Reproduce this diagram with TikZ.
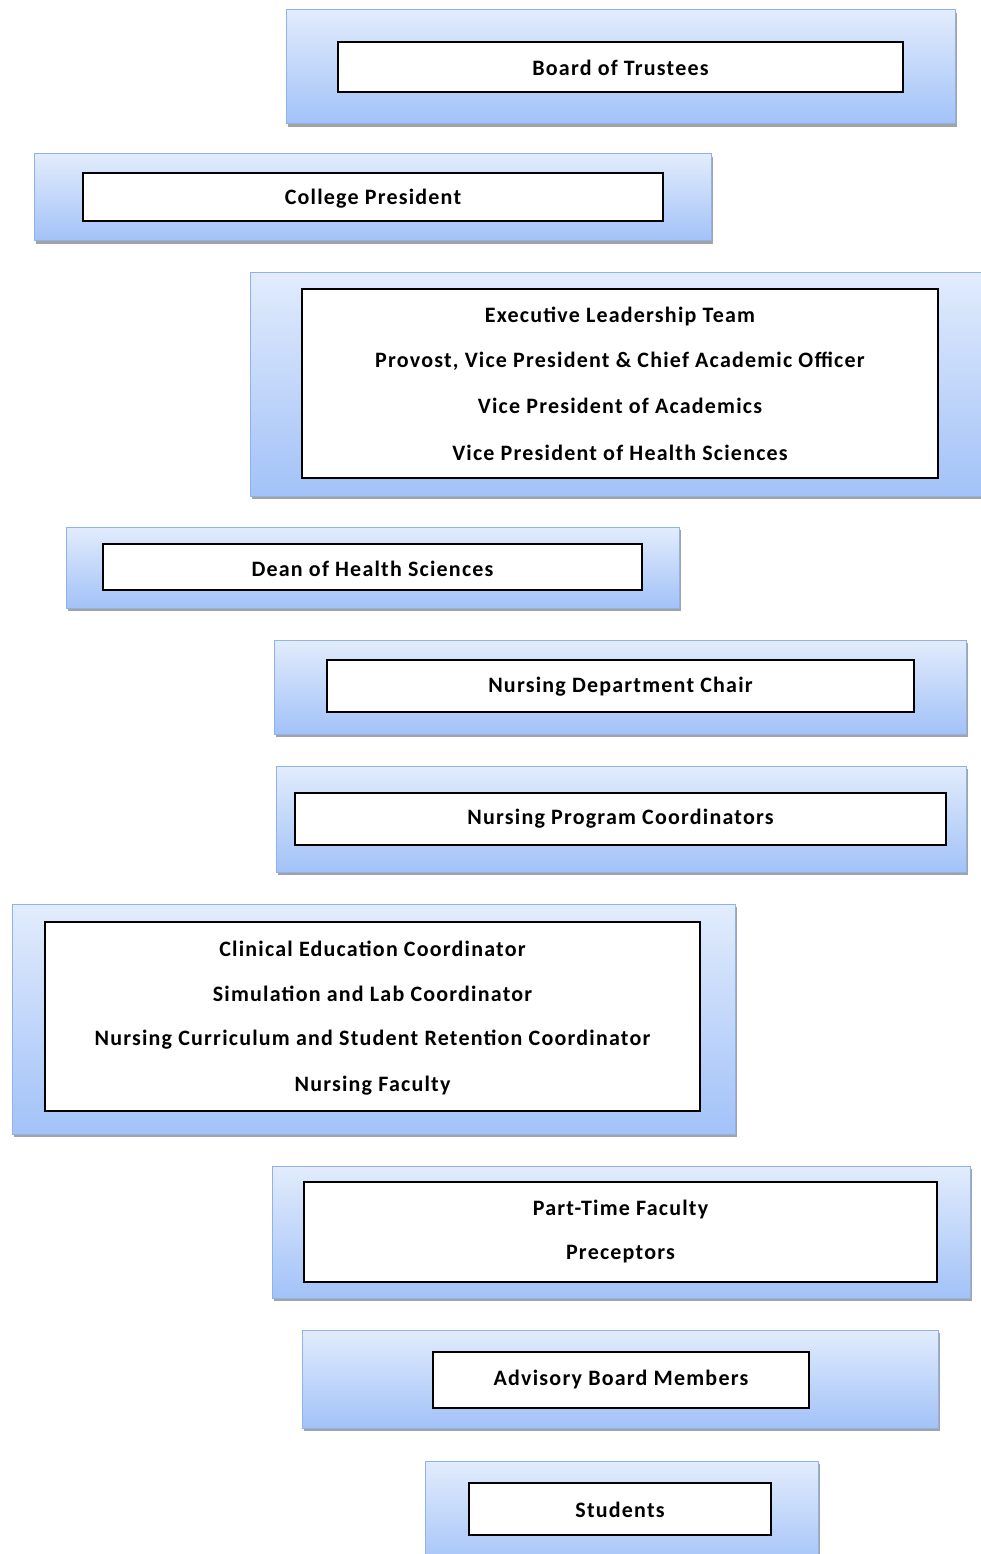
\documentclass[tikz,border=0pt]{standalone}
\usepackage{fontspec}
\setmainfont{Carlito}
\newfontfamily\lblfont[LetterSpace=5.5]{Carlito}
\usetikzlibrary{shadows}
\definecolor{gtop}{HTML}{E2ECFC}
\definecolor{gbot}{HTML}{A2C2F8}
\definecolor{gline}{HTML}{8FB2EA}
\tikzset{
  outerbox/.style={draw=gline, line width=1pt, top color=gtop, bottom color=gbot,
    drop shadow={shadow xshift=2pt, shadow yshift=-3pt, fill=black!45, opacity=0.8}},
  innerbox/.style={draw=black, line width=1.2pt, fill=white},
  lbl/.style={font=\lblfont\bfseries\fontsize{22}{25}\selectfont, anchor=center, inner sep=0pt}
}
\begin{document}
\begin{tikzpicture}[x=1pt,y=-1pt]
\useasboundingbox (0,0) rectangle (981,1554);
% 1
\path[outerbox] (286,10) rectangle (955,124);
\draw[innerbox] (338,42) rectangle (903,92);
\node[lbl] (b1) at (620.5,68) {Board of Trustees};
% 2
\path[outerbox] (34,154) rectangle (711,241);
\draw[innerbox] (83,173) rectangle (663,221);
\node[lbl] (b2) at (373,199) {College President};
% 3
\path[outerbox] (250,272) rectangle (984,496);
\draw[innerbox] (302,289) rectangle (938,478);
\node[lbl] (b3a) at (620,316) {Executive Leadership Team};
\node[lbl] (b3b) at (620,361) {Provost, Vice President \& Chief Academic Officer};
\node[lbl] (b3c) at (620,406) {Vice President of Academics};
\node[lbl] (b3d) at (620,453) {Vice President of Health Sciences};
% 4
\path[outerbox] (66,527) rectangle (679,608);
\draw[innerbox] (103,544) rectangle (642,590);
\node[lbl] (b4) at (372.5,569) {Dean of Health Sciences};
% 5
\path[outerbox] (274,640) rectangle (966,734);
\draw[innerbox] (327,660) rectangle (914,712);
\node[lbl] (b5) at (620.5,687) {Nursing Department Chair};
% 6
\path[outerbox] (276,766) rectangle (966,872);
\draw[innerbox] (295,793) rectangle (946,845);
\node[lbl] (b6) at (620.5,819) {Nursing Program Coordinators};
% 7
\path[outerbox] (12,904) rectangle (735,1134);
\draw[innerbox] (45,922) rectangle (700,1111);
\node[lbl] (b7a) at (372.5,949) {Clinical Education Coordinator};
\node[lbl] (b7b) at (372.5,994) {Simulation and Lab Coordinator};
\node[lbl] (b7c) at (372.5,1040) {Nursing Curriculum and Student Retention Coordinator};
\node[lbl] (b7d) at (372.5,1086) {Nursing Faculty};
% 8
\path[outerbox] (272,1166) rectangle (970,1298);
\draw[innerbox] (304,1182) rectangle (937,1282);
\node[lbl] (b8a) at (620.5,1209) {Part-Time Faculty};
\node[lbl] (b8b) at (620.5,1254) {Preceptors};
% 9
\path[outerbox] (302,1330) rectangle (938,1428);
\draw[innerbox] (433,1352) rectangle (809,1408);
\node[lbl] (b9) at (621,1379) {Advisory Board Members};
% 10
\path[outerbox] (425,1461) rectangle (818,1570);
\draw[innerbox] (469,1483) rectangle (771,1535);
\node[lbl] (b10) at (620,1510) {Students};
\end{tikzpicture}
\end{document}
